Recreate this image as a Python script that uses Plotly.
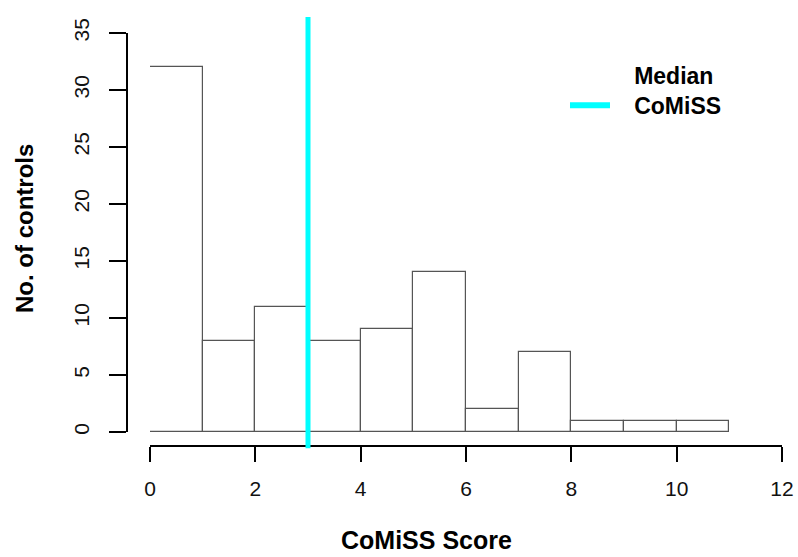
import plotly.graph_objects as go

# Histogram data (CoMiSS score bins of width 1)
bin_left = [0, 1, 2, 3, 4, 5, 6, 7, 8, 9, 10]
counts = [32, 8, 11, 8, 9, 14, 2, 7, 1, 1, 1]
bin_width = 1
median_score = 3

x_ticks = [0, 2, 4, 6, 8, 10, 12]
y_ticks = [0, 5, 10, 15, 20, 25, 30, 35]

FONT = "Liberation Sans, Arial, sans-serif"
W, H = 798, 557
PAD = "\u00a0" * 3

fig = go.Figure()
fig.add_trace(go.Bar(
    x=[b + bin_width / 2 for b in bin_left],
    y=counts,
    width=bin_width,
    marker=dict(color="white", line=dict(color="#555555", width=1.2)),
    showlegend=False,
    hoverinfo="skip",
))
# legend entry for the median line
fig.add_trace(go.Scatter(
    x=[None], y=[None], mode="lines",
    line=dict(color="#00FFFF", width=6),
    name=f"<b>{PAD}Median<br>{PAD}CoMiSS</b>",
))
fig.add_shape(type="line", xref="x", yref="paper",
              x0=median_score, x1=median_score, y0=-0.005, y1=1,
              line=dict(color="#00FFFF", width=5), layer="above")

ml, mr, mt, mb = 127, 16, 17, 111
pw = W - ml - mr
ph = H - mt - mb

fig.update_layout(
    width=W, height=H,
    margin=dict(l=ml, r=mr, t=mt, b=mb, pad=0, autoexpand=False),
    paper_bgcolor="white", plot_bgcolor="white",
    font=dict(family=FONT, color="black", size=20),
    bargap=0,
    xaxis=dict(
        domain=[(150 - ml) / pw, 1], range=[0, 12],
        anchor="free", position=0, automargin=False,
        tickvals=x_ticks, ticktext=[str(v) for v in x_ticks],
        ticks="outside", ticklen=15, tickwidth=2, tickcolor="black",
        showline=True, linewidth=2, linecolor="black",
        showgrid=False, zeroline=False,
        tickfont=dict(size=21, family=FONT, color="#111"),
        ticklabelstandoff=9,
    ),
    yaxis=dict(
        domain=[(446 - 432) / ph, (446 - 33) / ph], range=[0, 35],
        anchor="free", position=0, automargin=False,
        tickvals=y_ticks, ticktext=[str(v) for v in y_ticks],
        tickangle=-90,
        ticks="outside", ticklen=17, tickwidth=2, tickcolor="black",
        showline=True, linewidth=2, linecolor="black",
        showgrid=False, zeroline=False,
        tickfont=dict(size=21, family=FONT, color="#111"),
        ticklabelstandoff=12,
    ),
    legend=dict(
        x=(565 - ml) / pw, y=(446 - 54) / ph, xanchor="left", yanchor="top",
        bgcolor="rgba(0,0,0,0)", borderwidth=0, itemwidth=40,
        valign="bottom",
        font=dict(size=23, family=FONT, color="black"),
    ),
    annotations=[
        dict(text="<b>CoMiSS Score</b>", xref="paper", yref="paper",
             x=(426 - ml) / pw, y=(446 - 540) / ph, showarrow=False,
             font=dict(size=25, family=FONT, color="black"),
             xanchor="center", yanchor="middle"),
        dict(text="<b>No. of controls</b>", xref="paper", yref="paper",
             x=(24 - ml) / pw, y=(446 - 229) / ph, showarrow=False,
             textangle=-90,
             font=dict(size=24, family=FONT, color="black"),
             xanchor="center", yanchor="middle"),
    ],
)

fig.write_html("out.html")
